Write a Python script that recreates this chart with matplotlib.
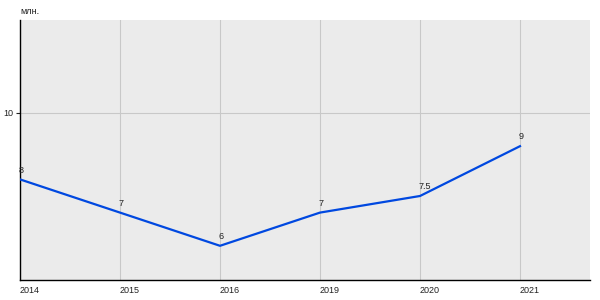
import matplotlib
matplotlib.use("Agg")
import matplotlib.pyplot as plt

years = ["2014", "2015", "2016", "2019", "2020", "2021"]
values = [8, 7, 6, 7, 7.5, 9]
value_labels = ["8", "7", "6", "7", "7.5", "9"]
y_ticks = [10]
unit = "млн."

plt.rcParams["font.family"] = ["Liberation Sans", "DejaVu Sans"]

fig = plt.figure(figsize=(6, 3), dpi=100)
ax = fig.add_axes([20 / 600, 20 / 300, 570 / 600, 260 / 300])
ax.set_facecolor("#EBEBEB")

x = list(range(len(years)))
ax.plot(x, values, color="#0048E0", lw=1.6, zorder=3)
for xi, v, lab in zip(x, values, value_labels):
    ax.annotate(lab, (xi, v), xytext=(-1, 3.5), textcoords="offset points",
                ha="left", va="bottom", fontsize=6.5, color="#222222")

ax.set_xlim(0, 5.7)
ax.set_ylim(4.97, 12.8)
ax.set_xticks(x)
ax.set_xticklabels(years, ha="left")
ax.set_yticks(y_ticks)
ax.grid(True, color="#C8C8C8", lw=0.8)
ax.set_axisbelow(True)

for s in ["top", "right"]:
    ax.spines[s].set_visible(False)
for s in ["left", "bottom"]:
    ax.spines[s].set_color("black")
    ax.spines[s].set_linewidth(1)

ax.tick_params(axis="x", length=0, labelsize=6.5, pad=4, labelcolor="#222222")
ax.tick_params(axis="y", length=3, labelsize=6.5, pad=2, colors="#222222")

fig.text(20 / 600, 1 - 12 / 300, unit, ha="left", va="center", fontsize=6.5, color="#222222")

fig.savefig("out.png", dpi=100)
